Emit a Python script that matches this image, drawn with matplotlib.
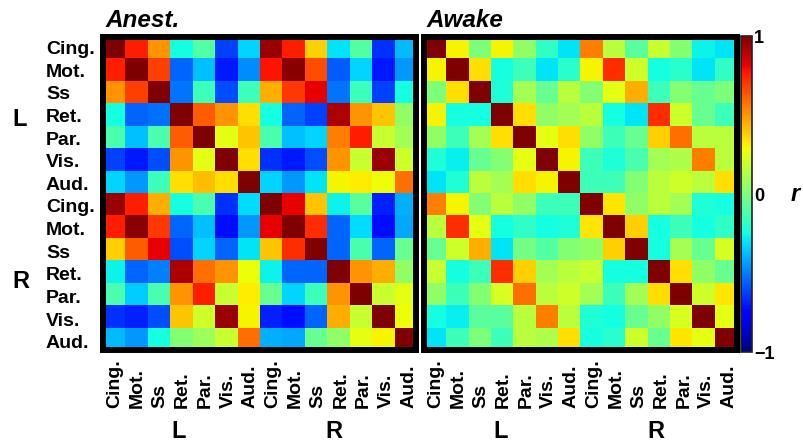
import numpy as np
import matplotlib
matplotlib.use("Agg")
import matplotlib.pyplot as plt

plt.rcParams['font.family'] = ['Liberation Sans', 'DejaVu Sans']

regions = ["Cing.", "Mot.", "Ss", "Ret.", "Par.", "Vis.", "Aud.",
           "Cing.", "Mot.", "Ss", "Ret.", "Par.", "Vis.", "Aud."]
hemis = ["L", "R"]

anest = [
    [1.00, 0.75, 0.50, -0.25, -0.10, -0.62, -0.33, 0.95, 0.75, 0.38, -0.30, -0.10, -0.65, -0.38],
    [0.75, 1.00, 0.68, -0.55, -0.37, -0.70, -0.47, 0.78, 0.98, 0.65, -0.57, -0.33, -0.70, -0.45],
    [0.50, 0.68, 1.00, -0.52, -0.15, -0.60, -0.15, 0.45, 0.70, 0.82, -0.52, -0.15, -0.62, -0.25],
    [-0.25, -0.55, -0.53, 1.00, 0.62, 0.50, 0.35, -0.25, -0.55, -0.62, 0.92, 0.50, 0.40, 0.05],
    [-0.12, -0.37, -0.12, 0.62, 1.00, 0.25, 0.40, -0.12, -0.37, -0.33, 0.55, 0.75, 0.18, 0.10],
    [-0.62, -0.70, -0.60, 0.50, 0.25, 1.00, 0.35, -0.65, -0.70, -0.60, 0.50, 0.18, 0.95, 0.20],
    [-0.33, -0.45, -0.15, 0.35, 0.42, 0.35, 1.00, -0.33, -0.45, -0.30, 0.30, 0.32, 0.28, 0.58],
    [0.95, 0.75, 0.45, -0.25, -0.12, -0.65, -0.32, 1.00, 0.82, 0.40, -0.27, -0.08, -0.68, -0.40],
    [0.75, 0.98, 0.70, -0.55, -0.37, -0.72, -0.45, 0.82, 1.00, 0.72, -0.55, -0.32, -0.72, -0.42],
    [0.38, 0.62, 0.82, -0.60, -0.33, -0.55, -0.30, 0.40, 0.72, 1.00, -0.55, -0.12, -0.55, -0.05],
    [-0.27, -0.55, -0.50, 0.92, 0.58, 0.50, 0.28, -0.27, -0.55, -0.55, 1.00, 0.50, 0.45, 0.05],
    [-0.12, -0.35, -0.12, 0.50, 0.75, 0.18, 0.32, -0.05, -0.33, -0.15, 0.50, 1.00, 0.18, 0.25],
    [-0.65, -0.68, -0.60, 0.40, 0.20, 0.95, 0.30, -0.68, -0.72, -0.55, 0.45, 0.18, 1.00, 0.28],
    [-0.38, -0.45, -0.25, 0.02, 0.08, 0.18, 0.58, -0.40, -0.42, -0.05, 0.05, 0.25, 0.30, 1.00],
]

awake = [
    [1.00, 0.30, 0.00, 0.30, 0.05, -0.18, -0.30, 0.55, 0.15, -0.08, 0.18, 0.02, -0.27, -0.30],
    [0.30, 1.00, 0.35, -0.25, -0.15, -0.30, -0.20, 0.30, 0.72, 0.20, -0.25, -0.20, -0.30, -0.18],
    [0.00, 0.35, 1.00, -0.22, 0.10, -0.05, 0.15, 0.02, 0.25, 0.45, -0.15, 0.02, -0.05, 0.00],
    [0.30, -0.25, -0.25, 1.00, 0.35, 0.05, 0.10, 0.15, -0.25, -0.30, 0.72, 0.20, -0.05, -0.15],
    [0.05, -0.15, 0.10, 0.35, 1.00, 0.25, 0.35, 0.05, -0.15, -0.05, 0.38, 0.58, 0.15, 0.15],
    [-0.22, -0.28, -0.05, 0.02, 0.25, 1.00, 0.30, -0.15, -0.22, -0.12, 0.10, 0.12, 0.55, 0.15],
    [-0.30, -0.22, 0.15, 0.10, 0.35, 0.30, 1.00, -0.15, -0.15, 0.02, 0.15, 0.20, 0.15, 0.35],
    [0.55, 0.30, 0.02, 0.15, 0.05, -0.15, -0.15, 1.00, 0.33, 0.05, 0.15, 0.10, -0.22, -0.25],
    [0.15, 0.72, 0.25, -0.25, -0.18, -0.25, -0.22, 0.33, 1.00, 0.38, -0.25, -0.15, -0.25, -0.18],
    [-0.05, 0.20, 0.45, -0.30, -0.02, -0.10, 0.02, 0.05, 0.38, 1.00, -0.25, 0.10, -0.05, 0.22],
    [0.18, -0.25, -0.15, 0.72, 0.38, 0.10, 0.15, 0.18, -0.25, -0.25, 1.00, 0.35, 0.05, -0.05],
    [0.05, -0.15, 0.02, 0.22, 0.58, 0.15, 0.20, 0.10, -0.15, 0.10, 0.35, 1.00, 0.20, 0.33],
    [-0.25, -0.28, -0.08, -0.08, 0.15, 0.55, 0.15, -0.22, -0.25, -0.05, 0.05, 0.22, 1.00, 0.25],
    [-0.30, -0.15, 0.00, -0.15, 0.15, 0.12, 0.35, -0.25, -0.20, 0.20, -0.05, 0.33, 0.25, 1.00],
]

titles = ["Anest.", "Awake"]
cbar_ticks = [-1, 0, 1]
cbar_ticklabels = ["\u22121", "0", "1"]

W, H = 804, 444
fig = plt.figure(figsize=(W / 100, H / 100), dpi=100)


def px_rect(x0, y0, x1, y1):
    return [x0 / W, 1 - y1 / H, (x1 - x0) / W, (y1 - y0) / H]


axes_px = [(102.6, 37, 415.8, 350), (423.7, 37, 736.5, 350)]
n = len(regions)
ims = []
for k, (mat, title) in enumerate(zip([anest, awake], titles)):
    ax = fig.add_axes(px_rect(*axes_px[k]))
    im = ax.imshow(np.array(mat), cmap='jet', vmin=-1, vmax=1,
                   interpolation='nearest', aspect='auto')
    ims.append(im)
    ax.set_xticks([])
    ax.set_yticks([])
    for sp in ax.spines.values():
        sp.set_linewidth(4.3)
        sp.set_color('black')
    # x labels (rotated, start-aligned at bottom)
    for i, lab in enumerate(regions):
        ax.text(i * 1.01 + 0.05, -0.185, lab, transform=ax.get_xaxis_transform(),
                rotation=90, rotation_mode='anchor', ha='left', va='center',
                fontsize=14, fontweight='bold')
    if k == 0:
        for i, lab in enumerate(regions):
            ax.text(-0.181, i * 1.012 + 0.06, lab, transform=ax.get_yaxis_transform(),
                    ha='left', va='center', fontsize=14, fontweight='bold')
    ax.text(0.008, 1 + 10 / 313, title, transform=ax.transAxes, ha='left',
            va='baseline', fontsize=17.5, fontweight='bold', fontstyle='italic')

# hemisphere labels
fig.text(19.5 / W, 1 - 119.5 / H, hemis[0], ha='center', va='center',
         fontsize=17, fontweight='bold')
fig.text(21 / W, 1 - 281 / H, hemis[1], ha='center', va='center',
         fontsize=17, fontweight='bold')
for xc, lab in [(178.5, hemis[0]), (333.5, hemis[1]), (500.5, hemis[0]), (656, hemis[1])]:
    fig.text(xc / W, 1 - 431.5 / H, lab, ha='center', va='center',
             fontsize=17, fontweight='bold')

# colorbar
cax = fig.add_axes(px_rect(741, 36, 752, 352))
cb = fig.colorbar(ims[1], cax=cax)
cb.set_ticks(cbar_ticks)
cb.set_ticklabels(cbar_ticklabels)
cb.outline.set_linewidth(1.2)
cb.outline.set_edgecolor('#222222')
cax.tick_params(length=0, pad=1.5)
for t in cax.get_yticklabels():
    t.set_fontsize(13)
    t.set_fontweight('bold')

fig.text(795 / W, 1 - 194 / H, "r", ha='center', va='center',
         fontsize=17, fontweight='bold', fontstyle='italic')

fig.savefig("out.png", dpi=100)
